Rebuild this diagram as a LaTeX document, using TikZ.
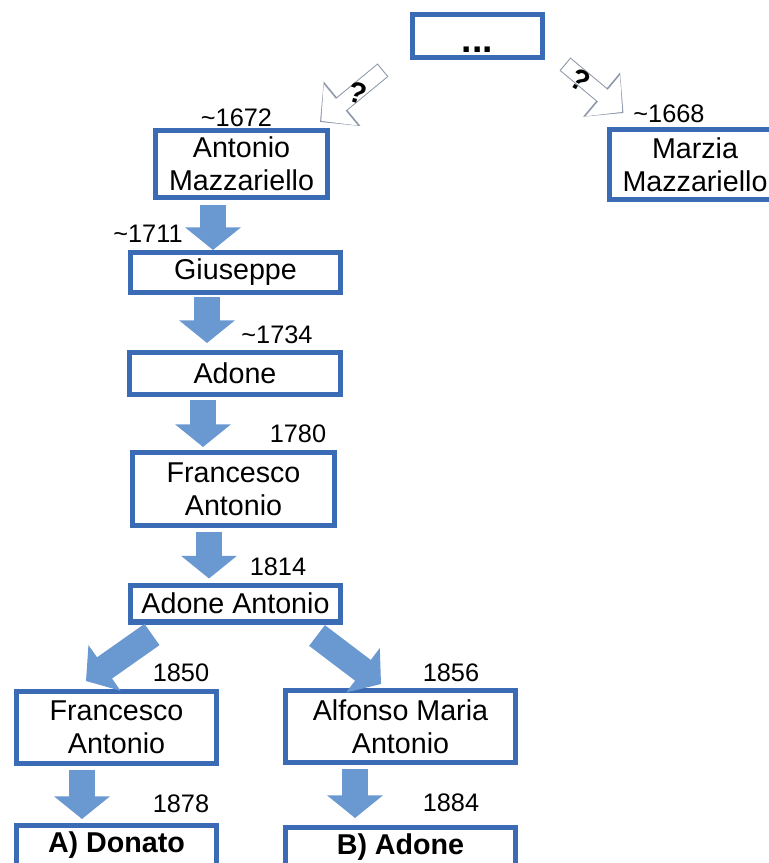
\documentclass[tikz,border=0pt]{standalone}
\usepackage{fontspec}
\setmainfont{Liberation Sans}
\usetikzlibrary{arrows.meta}
\usetikzlibrary{calc}

\definecolor{boxblue}{HTML}{3B6BB4}
\definecolor{arrowblue}{HTML}{6A98D0}
\definecolor{unsuregray}{HTML}{8C97A8}

\begin{document}
\begin{tikzpicture}[x=0.75pt,y=-0.75pt]
	\tikzstyle{person}=[draw=boxblue,line width=4pt,fill=white,inner sep=0pt,align=center,font=\fontsize{21.5}{25}\selectfont]
	\tikzstyle{year}=[inner sep=0pt,font=\fontsize{19}{22}\selectfont]
	\tikzstyle{descent}=[draw=arrowblue,line width=19.5pt,-{Triangle[width=41pt,length=17pt]}]
	\tikzstyle{unsure edge}=[draw=white,line width=11.25pt,-{Triangle[width=39pt,length=19pt]},shorten >=1.2pt,shorten <=0.8pt,
		preaction={draw=unsuregray,line width=12.75pt,-{Triangle[width=42pt,length=21.5pt]},shorten >=0pt,shorten <=0pt}]

	\useasboundingbox (0,0) rectangle (768,863);

	% people
	\node[person,minimum width=97.25pt,minimum height=32pt,text height=25pt,text depth=0pt,font=\fontsize{28}{30}\selectfont\bfseries] (top) at (477.5,36) {...};
	\node[person,minimum width=128.75pt,minimum height=50pt] (ant) at (241.5,164) {Antonio\\Mazzariello};
	\node[person,minimum width=128pt,minimum height=52.25pt] (marz) at (695,164.5) {Marzia\\Mazzariello};
	\node[person,minimum width=157.25pt,minimum height=29.75pt] (gius) at (235.5,272.5) {Giuseppe};
	\node[person,minimum width=158pt,minimum height=31.25pt] (ado) at (235,373.5) {Adone};
	\node[person,minimum width=151.25pt,minimum height=54.5pt] (fran1) at (233.5,489) {Francesco\\Antonio};
	\node[person,minimum width=157.25pt,minimum height=27.5pt] (adant) at (235.5,603.5) {Adone Antonio};
	\node[person,minimum width=149.75pt,minimum height=53.75pt] (fran2) at (116.5,727.5) {Francesco\\Antonio};
	\node[person,minimum width=172.25pt,minimum height=53.75pt] (alf) at (400.5,726.5) {Alfonso Maria\\Antonio};
	\node[person,minimum width=149.75pt,minimum height=29.75pt,font=\fontsize{21.5}{25}\selectfont\bfseries] (donato) at (116.5,845.5) {A) Donato};
	\node[person,minimum width=172.25pt,minimum height=29.75pt,font=\fontsize{21.5}{25}\selectfont\bfseries] (badone) at (400.5,847.5) {B) Adone};

	% years
	\node[year] (y1672) at (236.5,118) {\textasciitilde 1672};
	\node[year] (y1668) at (669,114) {\textasciitilde 1668};
	\node[year] (y1711) at (148,234) {\textasciitilde 1711};
	\node[year] (y1734) at (277,335) {\textasciitilde 1734};
	\node[year] (y1780) at (298,434) {1780};
	\node[year] (y1814) at (278,567) {1814};
	\node[year] (y1850) at (181,673) {1850};
	\node[year] (y1856) at (451,673) {1856};
	\node[year] (y1878) at (181,804) {1878};
	\node[year] (y1884) at (451,803) {1884};

	% uncertain links
	\draw[unsure edge] ($(top.south west)+(-27,10)$) -- ($(ant.north)+(78.5,-6)$);
	\draw[unsure edge] ($(top.south east)+(20,4)$) -- ($(marz.north west)+(16.5,-14)$);
	\node[year,font=\fontsize{22}{24}\selectfont\bfseries,rotate=-15] (q1) at (358,93) {?};
	\node[year,font=\fontsize{22}{24}\selectfont\bfseries,rotate=-30] (q2) at (580,80) {?};

	% descent
	\draw[descent] ($(ant.south)+(-28.5,5)$) -- ($(gius.north)+(-22.5,0)$);
	\draw[descent] ($(gius.south)+(-28.5,2)$) -- ($(ado.north)+(-28,-7)$);
	\draw[descent] ($(ado.south)+(-32,3)$) -- ($(fran1.north)+(-30.5,-3)$);
	\draw[descent] ($(fran1.south)+(-24.5,4)$) -- ($(adant.north)+(-26.5,-4)$);
	\draw[descent] ($(adant.south)+(-83.5,10)$) -- ($(fran2.north)+(-30.5,-8)$);
	\draw[descent] ($(adant.south)+(81.5,11)$) -- ($(alf.north)+(-19.5,-4)$);
	\draw[descent] ($(fran2.south)+(-34.5,4)$) -- ($(donato.north)+(-34.5,-4)$);
	\draw[descent] ($(alf.south)+(-45.5,4)$) -- ($(badone.north)+(-45.5,-7)$);
\end{tikzpicture}
\end{document}
